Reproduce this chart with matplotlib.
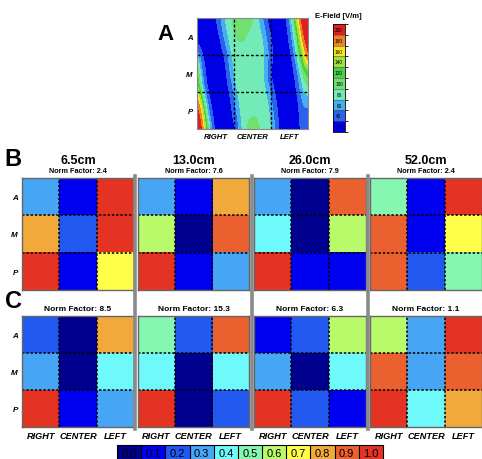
import numpy as np
import matplotlib
matplotlib.use('Agg')
import matplotlib.pyplot as plt
from matplotlib.colors import ListedColormap, BoundaryNorm
from matplotlib.cm import ScalarMappable
from matplotlib.lines import Line2D

plt.rcParams['font.family'] = ['Liberation Sans', 'DejaVu Sans']

W, H = 482, 460

rows = ['A', 'M', 'P']
cols = ['RIGHT', 'CENTER', 'LEFT']

# panel B: distance titles, norm factors, normalized maps (rows A/M/P x cols R/C/L)
b_titles = ['6.5cm', '13.0cm', '26.0cm', '52.0cm']
b_norm = [2.4, 7.6, 7.9, 2.4]
b_maps = [
    [[0.3, 0.1, 1.0], [0.8, 0.2, 1.0], [1.0, 0.1, 0.7]],
    [[0.3, 0.1, 0.8], [0.6, 0.0, 0.9], [1.0, 0.1, 0.3]],
    [[0.3, 0.0, 0.9], [0.4, 0.0, 0.6], [1.0, 0.1, 0.1]],
    [[0.5, 0.1, 1.0], [0.9, 0.1, 0.7], [0.9, 0.2, 0.5]],
]

# panel C
c_norm = [8.5, 15.3, 6.3, 1.1]
c_maps = [
    [[0.2, 0.0, 0.8], [0.3, 0.0, 0.4], [1.0, 0.1, 0.3]],
    [[0.5, 0.2, 0.9], [0.4, 0.0, 0.4], [1.0, 0.0, 0.2]],
    [[0.1, 0.2, 0.6], [0.3, 0.0, 0.4], [1.0, 0.2, 0.1]],
    [[0.6, 0.3, 1.0], [0.9, 0.3, 0.9], [1.0, 0.4, 0.8]],
]

norm_levels = [0.0, 0.1, 0.2, 0.3, 0.4, 0.5, 0.6, 0.7, 0.8, 0.9, 1.0]
norm_colors = ['#00008f', '#0000f0', '#2159f0', '#46a6f5', '#6efafa', '#86f7b0',
               '#b8fa6a', '#ffff4a', '#f2a93b', '#eb602f', '#e53323']

# panel A: E-field (V/m), top row first, 21 samples across
efield = [
    [20, 20, 20, 20, 45, 75, 85, 105, 110, 105, 95, 75, 45, 20, 20, 20, 25, 70, 170, 210, 210],
    [20, 20, 20, 20, 30, 65, 82, 95, 100, 90, 85, 80, 65, 30, 20, 20, 20, 50, 120, 200, 210],
    [30, 20, 20, 20, 20, 45, 78, 85, 88, 85, 82, 80, 75, 45, 20, 20, 20, 35, 95, 170, 210],
    [95, 30, 20, 20, 20, 25, 65, 82, 82, 82, 82, 80, 78, 50, 20, 20, 20, 22, 65, 130, 190],
    [130, 45, 20, 20, 20, 20, 55, 82, 82, 82, 82, 82, 75, 30, 20, 20, 20, 20, 40, 95, 120],
    [160, 60, 20, 20, 20, 20, 35, 75, 82, 82, 82, 82, 80, 55, 22, 20, 20, 20, 30, 75, 90],
    [200, 130, 35, 20, 20, 20, 25, 60, 82, 82, 82, 82, 82, 70, 35, 20, 20, 20, 22, 55, 60],
    [210, 180, 60, 22, 20, 20, 20, 45, 80, 85, 90, 88, 82, 78, 45, 20, 20, 20, 20, 45, 40],
    [210, 200, 110, 25, 20, 20, 20, 30, 70, 95, 100, 95, 85, 80, 55, 22, 20, 20, 20, 40, 25],
]
efield_levels = [20, 40, 60, 80, 100, 120, 140, 160, 180, 200]
efield_colors = ['#0000e6', '#2a62ee', '#45aef5', '#72ebb8', '#70e070',
                 '#48d048', '#a0e040', '#f5e51e', '#f08222', '#e02020']


def px_axes(fig, x0, y0, x1, y1):
    return fig.add_axes([x0 / W, 1 - y1 / H, (x1 - x0) / W, (y1 - y0) / H])


def fig_text(fig, x, y, s, **kw):
    fig.text(x / W, 1 - y / H, s, ha='center', va='center', **kw)


def grid_lines(ax):
    for k in (0.5, 1.5):
        ax.axhline(k, color='black', lw=1.1, ls=(0, (1.6, 1.2)))
        ax.axvline(k, color='black', lw=1.1, ls=(0, (1.6, 1.2)))


fig = plt.figure(figsize=(W / 100, H / 100), dpi=100)

# ---- panel A ----
ecmap = ListedColormap(efield_colors)
ebounds = [10] + [v + 10 for v in efield_levels]
enorm = BoundaryNorm(ebounds, ecmap.N, clip=True)
ef = np.array(efield, dtype=float)
axA = px_axes(fig, 197, 19, 308, 130)
# samples sit on the edges of the map, so extend by half a sample step
ny, nx = ef.shape
dx, dy = 3 / (nx - 1) / 2, 3 / (ny - 1) / 2
axA.imshow(ef, cmap=ecmap, norm=enorm, aspect='auto',
           extent=(-dx, 3 + dx, 3 + dy, -dy), interpolation='bicubic',
           interpolation_stage='data')
axA.set_xlim(0, 3)
axA.set_ylim(3, 0)
for k in (1, 2):
    axA.axhline(k, color='black', lw=1.0, ls=(0, (2, 1.5)))
    axA.axvline(k, color='black', lw=1.0, ls=(0, (2, 1.5)))
axA.set_xticks([0.5, 1.5, 2.5])
axA.set_xticklabels(cols, fontsize=5.6, fontweight='bold', style='italic')
axA.set_yticks([0.5, 1.5, 2.5])
axA.set_yticklabels(rows, fontsize=5.6, fontweight='bold', style='italic')
axA.tick_params(length=0, pad=3)
for sp in axA.spines.values():
    sp.set_color('#888888')
    sp.set_linewidth(0.8)
fig_text(fig, 166, 35, 'A', fontsize=16, fontweight='bold')

caxA = px_axes(fig, 333, 25, 345, 133)
cbA = fig.colorbar(ScalarMappable(norm=enorm, cmap=ecmap), cax=caxA,
                   drawedges=True)
cbA.set_ticks([])
cbA.outline.set_linewidth(0.6)
cbA.dividers.set_linewidth(0.4)
cbA.dividers.set_color('#555555')
for v in efield_levels:
    caxA.text(0.5, v, str(v), ha='center', va='center', fontsize=3.4,
              transform=caxA.get_yaxis_transform())
fig_text(fig, 338, 16, 'E-Field [V/m]', fontsize=5.5, fontweight='bold')

# ---- panels B and C ----
ncmap = ListedColormap(norm_colors)
nbounds = [v - 0.05 for v in norm_levels] + [1.05]
nnorm = BoundaryNorm(nbounds, ncmap.N)

x_left = [22, 137.5, 254, 370]
gw = 112
for i in range(4):
    x0 = x_left[i]
    for maps, nf, (y0, y1), panel in ((b_maps, b_norm, (179, 291), 'B'),
                                      (c_maps, c_norm, (317, 428), 'C')):
        ax = px_axes(fig, x0, y0, x0 + gw, y1)
        ax.imshow(np.array(maps[i]), cmap=ncmap, norm=nnorm, aspect='auto',
                  interpolation='nearest')
        grid_lines(ax)
        ax.set_xticks([0, 1, 2])
        ax.set_yticks([0, 1, 2])
        ax.tick_params(length=0, pad=3)
        if panel == 'C':
            ax.set_xticklabels(cols, fontsize=6.6, fontweight='bold',
                               style='italic')
        else:
            ax.set_xticklabels([])
        if i == 0:
            ax.set_yticklabels(rows, fontsize=5.8, fontweight='bold',
                               style='italic')
        else:
            ax.set_yticklabels([])
        for sp in ax.spines.values():
            sp.set_color('#666666')
            sp.set_linewidth(1.0)
        xc = x0 + gw / 2
        if panel == 'B':
            fig_text(fig, xc, 161, b_titles[i], fontsize=9, fontweight='bold')
            fig_text(fig, xc, 171.5, 'Norm Factor: %.1f' % nf[i],
                     fontsize=5.2, fontweight='bold')
        else:
            fig_text(fig, xc, 309.5, 'Norm Factor: %.1f' % nf[i],
                     fontsize=6.0, fontweight='bold')

# gray separators between columns
for xs_ in (135.3, 251.5, 367.8):
    fig.add_artist(Line2D([xs_ / W, xs_ / W], [1 - 177 / H, 1 - 430 / H],
                          color='#8a8a8a', lw=2.6, transform=fig.transFigure))

fig_text(fig, 13, 160, 'B', fontsize=17, fontweight='bold')
fig_text(fig, 13, 302, 'C', fontsize=17, fontweight='bold')

# bottom colorbar for normalized values
cax = px_axes(fig, 117, 446, 383, 462)
cb = fig.colorbar(ScalarMappable(norm=nnorm, cmap=ncmap), cax=cax,
                  orientation='horizontal', drawedges=True)
cb.set_ticks([])
cb.outline.set_linewidth(0.8)
cb.dividers.set_linewidth(0.8)
for v in norm_levels:
    cax.text(v, 0.5, '%.1f' % v, ha='center', va='center', fontsize=8,
             transform=cax.get_xaxis_transform())

fig.savefig('out.png', dpi=100)
